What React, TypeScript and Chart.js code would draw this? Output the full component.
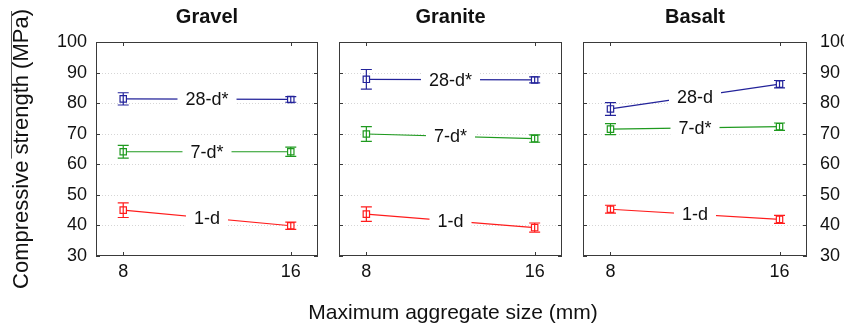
import React, { useEffect, useRef } from 'react';
import { Chart, registerables } from 'chart.js';

Chart.register(...registerables);

// ---------- data ----------
const sizes = [8, 16];
const xTickValues = [8, 16];
const yTickValues = [30, 40, 50, 60, 70, 80, 90, 100];
const panelNames = ['Gravel', 'Granite', 'Basalt'];

const gravel28 = [81.4, 81.2];
const gravel28Err = [2.0, 0.9];
const gravel7 = [64.1, 64.1];
const gravel7Err = [2.1, 1.5];
const gravel1 = [45.0, 39.9];
const gravel1Err = [2.4, 1.2];

const granite28 = [87.8, 87.6];
const granite28Err = [3.2, 1.0];
const granite7 = [69.9, 68.4];
const granite7Err = [2.4, 1.2];
const granite1 = [43.7, 39.3];
const granite1Err = [2.4, 1.5];

const basalt28 = [78.1, 86.2];
const basalt28Err = [2.1, 1.2];
const basalt7 = [71.5, 72.3];
const basalt7Err = [1.8, 1.2];
const basalt1 = [45.3, 42.0];
const basalt1Err = [1.3, 1.3];

const gravelLabels = ['28-d*', '7-d*', '1-d'];
const graniteLabels = ['28-d*', '7-d*', '1-d'];
const basaltLabels = ['28-d', '7-d*', '1-d'];

const seriesColors = ['#23239a', '#1f9a1f', '#ff1c1c'];

const yTitleText = 'Compressive strength (MPa)';
const yTitleOverlineFrom = 'Compressive';
const xTitleText = 'Maximum aggregate size (mm)';

const FONT = '"Liberation Sans", Arial, sans-serif';

type Spec = {
  name: string;
  left: number;
  width: number;
  padLeft: number;
  padRight: number;
  yPos: 'left' | 'right' | null;
  yWidth: number;
  yPadding: number;
  yTitle: boolean;
  series: number[][];
  errs: number[][];
  labels: string[];
};

const specs: Spec[] = [
  {
    name: panelNames[0], left: 0, width: 330, padLeft: 0, padRight: 12,
    yPos: 'left', yWidth: 96, yPadding: 9, yTitle: true,
    series: [gravel28, gravel7, gravel1], errs: [gravel28Err, gravel7Err, gravel1Err], labels: gravelLabels,
  },
  {
    name: panelNames[1], left: 330, width: 240, padLeft: 9, padRight: 8,
    yPos: null, yWidth: 0, yPadding: 0, yTitle: false,
    series: [granite28, granite7, granite1], errs: [granite28Err, granite7Err, granite1Err], labels: graniteLabels,
  },
  {
    name: panelNames[2], left: 570, width: 274, padLeft: 13, padRight: 0,
    yPos: 'right', yWidth: 37, yPadding: 13, yTitle: false,
    series: [basalt28, basalt7, basalt1], errs: [basalt28Err, basalt7Err, basalt1Err], labels: basaltLabels,
  },
];

const HEIGHT = 327;

function makePlugin(spec: Spec) {
  return {
    id: 'panelDeco',
    beforeDatasetsDraw(chart: any) {
      const { ctx, chartArea: a, scales } = chart;
      const y = scales.y;
      ctx.save();
      ctx.strokeStyle = '#d6d6d6';
      ctx.lineWidth = 1;
      ctx.setLineDash([1, 2]);
      for (const v of yTickValues) {
        if (v === yTickValues[0] || v === yTickValues[yTickValues.length - 1]) continue;
        const py = Math.round(y.getPixelForValue(v)) + 0.5;
        ctx.beginPath();
        ctx.moveTo(a.left, py);
        ctx.lineTo(a.right, py);
        ctx.stroke();
      }
      ctx.restore();
    },
    afterDatasetsDraw(chart: any) {
      const { ctx, scales } = chart;
      const y = scales.y;
      ctx.save();
      chart.data.datasets.forEach((ds: any, i: number) => {
        const meta = chart.getDatasetMeta(i);
        const vals = spec.series[i];
        const errs = spec.errs[i];
        ctx.strokeStyle = seriesColors[i];
        ctx.lineWidth = 1.2;
        ctx.setLineDash([]);
        meta.data.forEach((pt: any, j: number) => {
          const yt = y.getPixelForValue(vals[j] + errs[j]);
          const yb = y.getPixelForValue(vals[j] - errs[j]);
          const px = pt.x;
          ctx.beginPath();
          ctx.moveTo(px, yt);
          ctx.lineTo(px, yb);
          ctx.moveTo(px - 5.5, yt);
          ctx.lineTo(px + 5.5, yt);
          ctx.moveTo(px - 5.5, yb);
          ctx.lineTo(px + 5.5, yb);
          ctx.stroke();
        });
        // inline series label
        const p0 = meta.data[0];
        const p1 = meta.data[meta.data.length - 1];
        const xm = (p0.x + p1.x) / 2;
        const ym = (p0.y + p1.y) / 2;
        const label = spec.labels[i];
        ctx.font = `18px ${FONT}`;
        const w = ctx.measureText(label).width;
        ctx.fillStyle = '#ffffff';
        ctx.fillRect(xm - w / 2 - 8, ym - 9, w + 16, 18);
        ctx.fillStyle = '#111111';
        ctx.textAlign = 'center';
        ctx.textBaseline = 'middle';
        ctx.fillText(label, xm, ym + 1);
      });
      ctx.restore();
    },
    afterDraw(chart: any) {
      const { ctx, chartArea: a, scales } = chart;
      const x = scales.x;
      const y = scales.y;
      ctx.save();
      ctx.strokeStyle = '#3a3a3a';
      ctx.lineWidth = 1;
      ctx.strokeRect(a.left + 0.5, a.top + 0.5, a.right - a.left - 1, a.bottom - a.top - 1);
      ctx.beginPath();
      for (const v of yTickValues) {
        const py = Math.round(y.getPixelForValue(v)) + 0.5;
        ctx.moveTo(a.left, py);
        ctx.lineTo(a.left + 4, py);
        ctx.moveTo(a.right, py);
        ctx.lineTo(a.right - 4, py);
      }
      for (const v of xTickValues) {
        const px = Math.round(x.getPixelForValue(v)) + 0.5;
        ctx.moveTo(px, a.top);
        ctx.lineTo(px, a.top + 4);
        ctx.moveTo(px, a.bottom);
        ctx.lineTo(px, a.bottom - 4);
      }
      ctx.stroke();
      // panel title
      ctx.fillStyle = '#111111';
      ctx.font = `bold 20px ${FONT}`;
      ctx.textAlign = 'center';
      ctx.textBaseline = 'middle';
      ctx.fillText(spec.name, (a.left + a.right) / 2, 17);
      // overline on part of the y title
      if (spec.yTitle) {
        const titleOpts = y.options.title;
        const size = titleOpts.font.size;
        const lh = size * 1.2;
        const cx = y.left + titleOpts.padding.top + lh / 2;
        const cy = (y.top + y.bottom) / 2;
        ctx.font = `${size}px ${FONT}`;
        const L = ctx.measureText(yTitleText).width;
        const wc = ctx.measureText(yTitleOverlineFrom).width;
        const lx = Math.round(cx - size * 0.5) + 0.5;
        ctx.strokeStyle = '#555555';
        ctx.beginPath();
        ctx.moveTo(lx, cy - L / 2 + 2);
        ctx.lineTo(lx, cy + L / 2 - wc - 2);
        ctx.stroke();
      }
      ctx.restore();
    },
  };
}

function Panel({ spec }: { spec: Spec }) {
  const ref = useRef<HTMLCanvasElement | null>(null);
  useEffect(() => {
    if (!ref.current) return;
    const datasets = spec.series.map((vals, i) => ({
      label: spec.labels[i],
      data: sizes.map((s, j) => ({ x: s, y: vals[j] })),
      borderColor: seriesColors[i],
      backgroundColor: seriesColors[i],
      borderWidth: 1.2,
      pointStyle: 'rect',
      pointRadius: 4.5,
      pointBorderWidth: 1.2,
      pointBackgroundColor: '#ffffff',
      pointBorderColor: seriesColors[i],
      tension: 0,
    }));
    const chart = new Chart(ref.current, {
      type: 'line',
      data: { datasets },
      plugins: [makePlugin(spec)],
      options: {
        animation: false,
        responsive: false,
        devicePixelRatio: 1,
        layout: { padding: { left: spec.padLeft, right: spec.padRight, top: 42, bottom: 0 } },
        plugins: { legend: { display: false }, tooltip: { enabled: false }, title: { display: false } },
        scales: {
          x: {
            type: 'linear',
            min: 6.7,
            max: 17.3,
            afterBuildTicks: (s: any) => { s.ticks = xTickValues.map((v) => ({ value: v })); },
            afterFit: (s: any) => { s.height = 71; },
            grid: { display: false, drawTicks: false },
            border: { display: false },
            ticks: { padding: 5, color: '#111111', font: { family: FONT, size: 18 }, maxRotation: 0, autoSkip: false },
          },
          y: {
            type: 'linear',
            display: spec.yPos !== null,
            position: spec.yPos || 'left',
            min: 30,
            max: 100,
            afterBuildTicks: (s: any) => { s.ticks = yTickValues.map((v) => ({ value: v })); },
            afterFit: (s: any) => { s.width = spec.yWidth; },
            grid: { display: false, drawTicks: false },
            border: { display: false },
            ticks: { padding: spec.yPadding, color: '#111111', font: { family: FONT, size: 18 } },
            title: {
              display: spec.yTitle,
              text: yTitleText,
              color: '#111111',
              font: { family: FONT, size: 22 },
              padding: { top: 9, bottom: 0 },
            },
          },
        },
      } as any,
    });
    return () => chart.destroy();
  }, [spec]);
  return (
    <canvas
      ref={ref}
      width={spec.width}
      height={HEIGHT}
      style={{ position: 'absolute', left: spec.left, top: 0, width: spec.width, height: HEIGHT }}
    />
  );
}

export default function App() {
  return (
    <div style={{ position: 'fixed', left: 0, top: 0, width: 844, height: HEIGHT, background: '#ffffff', overflow: 'hidden' }}>
      {specs.map((s) => (
        <Panel key={s.name} spec={s} />
      ))}
      <div
        style={{
          position: 'absolute',
          left: 253,
          width: 400,
          top: 300,
          height: 24,
          lineHeight: '24px',
          textAlign: 'center',
          fontFamily: FONT,
          fontSize: 21,
          color: '#111111',
          whiteSpace: 'nowrap',
        }}
      >
        {xTitleText}
      </div>
    </div>
  );
}
